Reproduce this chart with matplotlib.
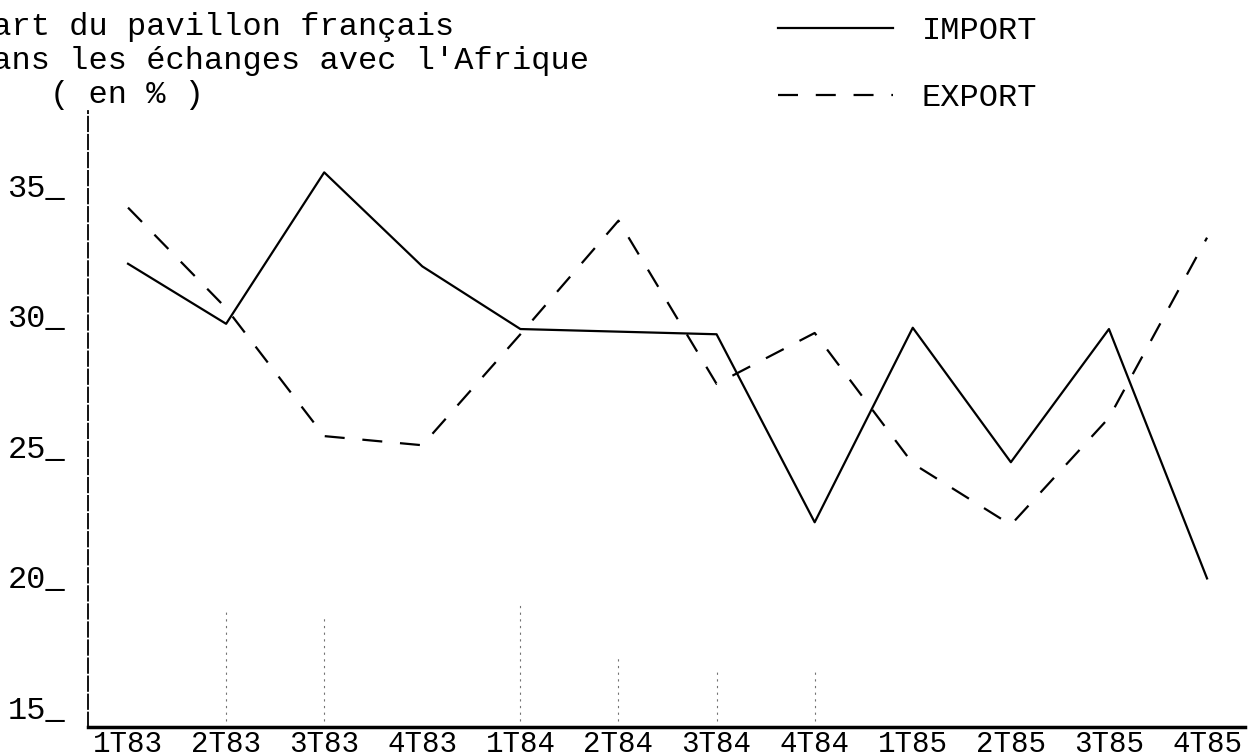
import numpy as np
import matplotlib
matplotlib.use("Agg")
import matplotlib.pyplot as plt

# données (en %)
trimestres = ["1T83", "2T83", "3T83", "4T83", "1T84", "2T84",
              "3T84", "4T84", "1T85", "2T85", "3T85", "4T85"]
import_pct = [32.7, 30.4, 36.2, 32.6, 30.2, 30.1, 30.0, 22.8, 30.25, 25.1, 30.2, 20.65]
export_pct = [34.85, 31.0, 26.1, 25.75, 30.0, 34.35, 28.1, 30.05, 25.05, 22.7, 26.8, 33.7]
y_ticks = [15, 20, 25, 30, 35]

# traits pointillés parasites du document scanné
trace_pos = [1, 2, 4, 5, 6, 7]
trace_haut = [19.4, 19.2, 19.8, 17.7, 17.1, 17.1]

plt.rcParams['font.family'] = ['Liberation Mono', 'DejaVu Sans Mono']
FS = 23

fig = plt.figure(figsize=(12.5, 7.56), dpi=100)
ax = fig.add_axes([88 / 1250, 29 / 756, (1245 - 88) / 1250, (727 - 111) / 756])

x = np.arange(len(trimestres))
ax.plot(x, import_pct, color='black', lw=1.6, label='IMPORT')
ax.plot(x, export_pct, color='black', lw=1.6, linestyle=(0, (9, 8)), label='EXPORT')
ax.vlines(trace_pos, 15.2, trace_haut, colors='0.45', lw=0.8, linestyles=(0, (2, 4)))

ax.set_xlim(-0.408, 11.387)
ax.set_ylim(14.96, 38.55)

ax.set_xticks(x, trimestres, fontsize=21)
ax.set_yticks(y_ticks, [f"{v}_" for v in y_ticks], fontsize=FS)
plt.setp(ax.get_yticklabels(), va='bottom')
ax.tick_params(axis='x', length=0, pad=2.5)
ax.tick_params(axis='y', length=0, pad=16.5)

for s in ['top', 'right']:
    ax.spines[s].set_visible(False)
ax.spines['left'].set_linestyle((0, (8, 2)))
ax.spines['left'].set_linewidth(1.3)
ax.spines['bottom'].set_linewidth(2.5)

# titre tapé à la machine, coupé à gauche comme sur l'original
titre = ["Part du pavillon français",
         "dans les échanges avec l'Afrique",
         "( en % )"]
titre_x = [-27, -27, 50]
for i, ligne in enumerate(titre):
    fig.text(titre_x[i] / 1250, 1 - (27 + 34 * i) / 756, ligne, fontsize=FS,
             ha='left', va='center')

fig.legend(loc='upper left', bbox_to_anchor=(778 / 1250, 1 - 16 / 756),
           frameon=False, fontsize=FS, handlelength=3.6, handletextpad=0.9,
           labelspacing=1.15, borderpad=0, borderaxespad=0)

fig.savefig("out.png", dpi=100)
